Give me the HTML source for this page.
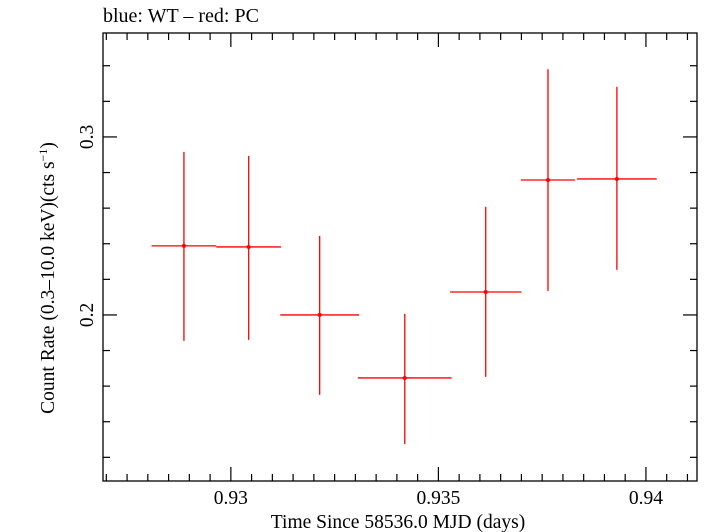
<!DOCTYPE html>
<html><head><meta charset="utf-8"><style>
body{margin:0;background:#fff;}
svg{display:block;font-family:"Liberation Serif",serif;}
</style></head><body>
<svg id="chart" width="709" height="532" xmlns="http://www.w3.org/2000/svg">
<text x="103" y="22" font-size="20">blue: WT – red: PC</text>
<rect x="103" y="33" width="594" height="448" fill="none" stroke="#000" stroke-width="1.3"/>
<g id="axes"></g>
<g id="series"></g>
<text x="398" y="528" font-size="19.5" text-anchor="middle">Time Since 58536.0 MJD (days)</text>
<text transform="translate(54,278) rotate(-90)" font-size="19.5" text-anchor="middle">Count Rate (0.3–10.0 keV)(cts s<tspan dy="-7" font-size="12">−1</tspan><tspan dy="7">)</tspan></text>
</svg>
<script>
const times=[0.92887,0.93043,0.93214,0.93419,0.93614,0.93764,0.9393];
const halfWidths=[0.00078,0.00078,0.00095,0.00113,0.00086,0.00065,0.00096];
const rates=[0.2388,0.2382,0.2,0.1646,0.2129,0.2758,0.2764];
const rateHigh=[0.2916,0.2893,0.2444,0.2006,0.2607,0.338,0.3281];
const rateLow=[0.1854,0.186,0.1551,0.1275,0.1652,0.2135,0.2253];
const xTickLabels=["0.93","0.935","0.94"];
const yTickLabels=["0.2","0.3"];
const L=103,R=697,T=33,B=481;
const X0=0.92692,X1=0.94123,Y0=0.1067,Y1=0.3584;
const sx=v=>L+(v-X0)/(X1-X0)*(R-L);
const sy=v=>B-(v-Y0)/(Y1-Y0)*(B-T);
const NS="http://www.w3.org/2000/svg";
function mk(tag,attrs,parent){const e=document.createElementNS(NS,tag);for(const k in attrs)e.setAttribute(k,attrs[k]);parent.appendChild(e);return e;}
const ax=document.getElementById('axes');
for(let i=0;i<=40;i++){const v=0.9265+i*0.0005;if(v<X0||v>X1)continue;const x=sx(v);const major=Math.abs(v*1000-Math.round(v*1000/5)*5)<1e-6;const len=major?14:7;
const t1=mk('line',{x1:x,x2:x,y1:B,y2:B-len,stroke:'#000','stroke-width':1.2},ax);


const t2=mk('line',{x1:x,x2:x,y1:T,y2:T+len,stroke:'#000','stroke-width':1.2},ax);

}
xTickLabels.forEach(s=>{const t=mk('text',{x:sx(parseFloat(s)),y:504,'font-size':19.5,'text-anchor':'middle'},ax);t.textContent=s;

});
for(let i=0;i<=20;i++){const v=0.1+i*0.02;if(v<Y0||v>Y1)continue;const y=sy(v);const major=Math.abs(v*10-Math.round(v*10))<1e-6;const len=major?14:7;
const t1=mk('line',{x1:L,x2:L+len,y1:y,y2:y,stroke:'#000','stroke-width':1.2},ax);


const t2=mk('line',{x1:R,x2:R-len,y1:y,y2:y,stroke:'#000','stroke-width':1.2},ax);

}
yTickLabels.forEach(s=>{const y=sy(parseFloat(s));const t=mk('text',{transform:`translate(93,${y}) rotate(-90)`,'font-size':19.5,'text-anchor':'middle'},ax);t.textContent=s;

});
const sg=document.getElementById('series');
times.forEach((t,i)=>{const g=mk('g',{stroke:'#ff0000','stroke-width':1.3},sg);


mk('line',{x1:sx(t-halfWidths[i]),x2:sx(t+halfWidths[i]),y1:sy(rates[i]),y2:sy(rates[i])},g);
mk('line',{x1:sx(t),x2:sx(t),y1:sy(rateHigh[i]),y2:sy(rateLow[i])},g);
mk('circle',{cx:sx(t),cy:sy(rates[i]),r:2,fill:'#ff0000',stroke:'none'},g);});
</script>
</body></html>
